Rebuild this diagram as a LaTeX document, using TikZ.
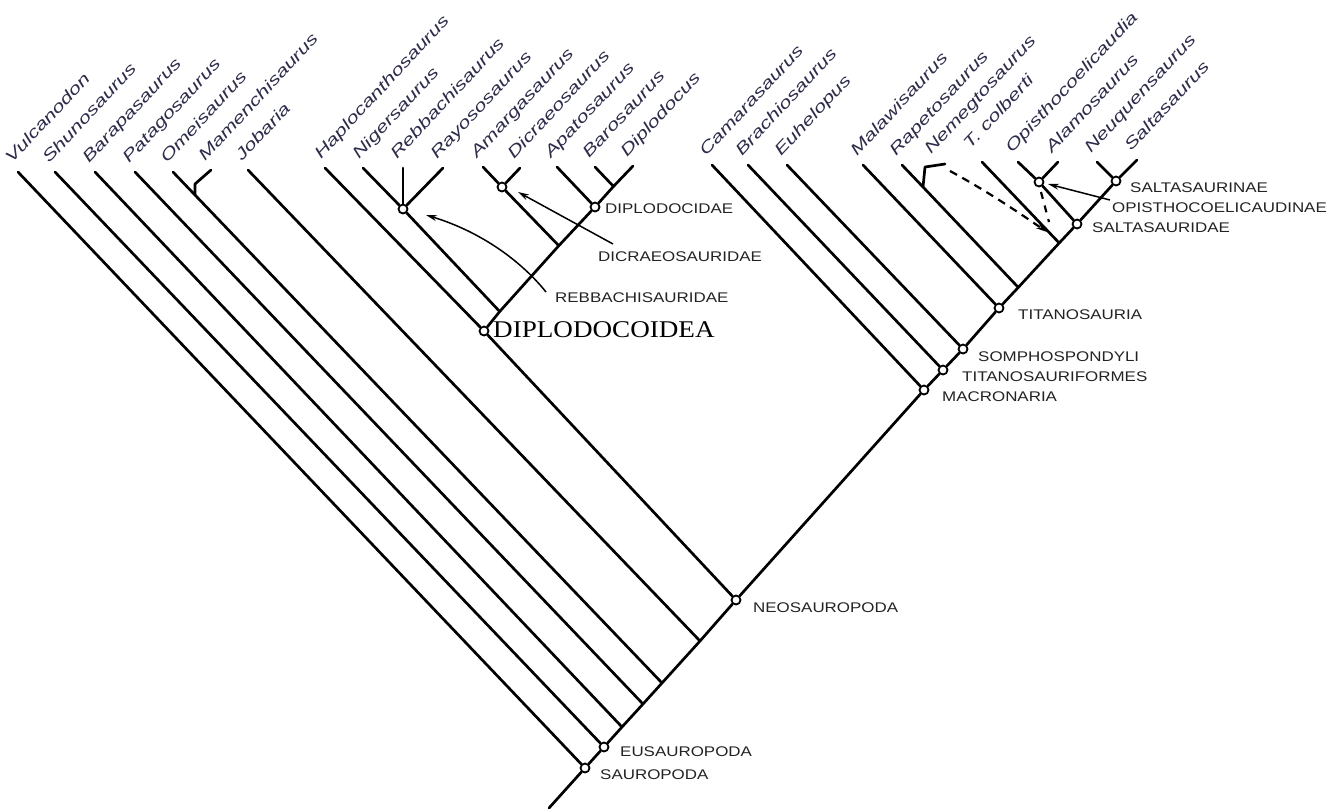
\documentclass[tikz,border=0pt]{standalone}
\usepackage{fontspec}
\setmainfont{Liberation Sans}
\newfontfamily\serifo{Liberation Serif}
\usepackage{graphicx}
\usetikzlibrary{arrows.meta,calc}
\definecolor{taxcol}{RGB}{45,45,75}
\definecolor{cladecol}{RGB}{35,35,35}
\newcommand{\taxt}[1]{\scalebox{1.37}[1]{\fontsize{16}{16}\selectfont\itshape #1}}
\newcommand{\cladet}[1]{\scalebox{1.21}[1]{\fontsize{14}{14}\selectfont #1}}
\tikzset{
  br/.style={line width=2.7pt, line cap=round, line join=round},
  nd/.style={circle, draw, fill=white, line width=1.8pt, minimum size=9pt, inner sep=0pt},
  tax/.style={rotate=47, anchor=base west, inner sep=0pt, text=taxcol},
  clade/.style={anchor=west, inner sep=0pt, text=cladecol},
  arr/.style={line width=1.5pt, -{Stealth[length=11pt,width=6pt]}},
  darr/.style={line width=2.2pt, dash pattern=on 8pt off 6pt, -{Stealth[length=11pt,width=6pt]}},
}
\begin{document}
\begin{tikzpicture}[x=1pt,y=-1pt]
\fill[white] (0,0) rectangle (1343,809);
\useasboundingbox (0,0) rectangle (1343,809);
% internal nodes
\node[nd] (saur) at (585,768) {};
\node[nd] (eus) at (604,747) {};
\node[nd] (neo) at (736,600) {};
\node[nd] (dip) at (484,331) {};
\node[nd] (reb) at (403,209) {};
\node[nd] (dic) at (502,187) {};
\node[nd] (dipl) at (595,207) {};
\node[nd] (mac) at (924,390) {};
\node[nd] (tif) at (943,370) {};
\node[nd] (som) at (963,349) {};
\node[nd] (tit) at (999,308) {};
\node[nd] (sal) at (1077,224) {};
\node[nd] (opi) at (1039,182) {};
\node[nd] (sln) at (1116,181) {};
% junctions
\coordinate (root) at (549,808);
\coordinate (jBar) at (622,727);
\coordinate (jPat) at (643,704);
\coordinate (jOme) at (662,683);
\coordinate (jJob) at (700,641);
\coordinate (jReb) at (499.7,311.5);
\coordinate (jDic) at (558.8,245.7);
\coordinate (jBaro) at (613.5,186.4);
\coordinate (jRap) at (1018.3,287.4);
\coordinate (jTco) at (1059.2,243);
\coordinate (jMam) at (195,195);
\coordinate (mamA) at (195,184);
\coordinate (jNem) at (923,187);
\coordinate (nemA) at (925,167);
% tips
\coordinate (tVul) at (18,172);
\coordinate (tShu) at (55,172);
\coordinate (tBar) at (95,172);
\coordinate (tPat) at (135,172);
\coordinate (tOme) at (173,172);
\coordinate (tMam) at (211,170);
\coordinate (tJob) at (248,170);
\coordinate (tHap) at (325,168);
\coordinate (tNig) at (363,168);
\coordinate (tReb) at (403,168);
\coordinate (tRay) at (443,168);
\coordinate (tAma) at (483,167);
\coordinate (tDcr) at (520,168);
\coordinate (tApa) at (557,167);
\coordinate (tBaro) at (595,167);
\coordinate (tDip) at (633,166);
\coordinate (tCam) at (712,165);
\coordinate (tBra) at (748,165);
\coordinate (tEuh) at (787,165);
\coordinate (tMal) at (863,165);
\coordinate (tRap) at (902,165);
\coordinate (tNem) at (945,164);
\coordinate (tTco) at (982,162);
\coordinate (tOpi) at (1018,162);
\coordinate (tAla) at (1058,162);
\coordinate (tNeu) at (1097,162);
\coordinate (tSal) at (1137,160);
% branches
\draw[br] (root) -- (saur) -- (eus) -- (jBar) -- (jPat) -- (jOme) -- (jJob) -- (neo) -- (mac) -- (tif) -- (som) -- (tit) -- (jRap) -- (jTco) -- (sal) -- (sln);
\draw[br] (tVul) -- (saur);
\draw[br] (tShu) -- (eus);
\draw[br] (tBar) -- (jBar);
\draw[br] (tPat) -- (jPat);
\draw[br] (tOme) -- (jMam) -- (jOme);
\draw[br] (jMam) -- (mamA) -- (tMam);
\draw[br] (tJob) -- (jJob);
\draw[br] (tHap) -- (dip) -- (neo);
\draw[br] (dip) -- (jReb) -- (jDic) -- (dipl) -- (jBaro) -- (tDip);
\draw[br] (tNig) -- (reb) -- (jReb);
\draw[br] (tReb) -- (reb);
\draw[br] (tRay) -- (reb);
\draw[br] (tAma) -- (dic);
\draw[br] (tDcr) -- (dic);
\draw[br] (dic) -- (jDic);
\draw[br] (tApa) -- (dipl);
\draw[br] (tBaro) -- (jBaro);
\draw[br] (tCam) -- (mac);
\draw[br] (tBra) -- (tif);
\draw[br] (tEuh) -- (som);
\draw[br] (tMal) -- (tit);
\draw[br] (tRap) -- (jNem) -- (jRap);
\draw[br] (jNem) -- (nemA) -- (tNem);
\draw[br] (tTco) -- (jTco);
\draw[br] (tOpi) -- (opi);
\draw[br] (tAla) -- (opi);
\draw[br] (opi) -- (sal);
\draw[br] (tNeu) -- (sln);
\draw[br] (tSal) -- (sln);
% taxon labels
\node[tax] (lVul) at ($(tVul)+(-6,-8)$) {\taxt{Vulcanodon}};
\node[tax] (lShu) at ($(tShu)+(-6,-8)$) {\taxt{Shunosaurus}};
\node[tax] (lBar) at ($(tBar)+(-6,-8)$) {\taxt{Barapasaurus}};
\node[tax] (lPat) at ($(tPat)+(-6,-8)$) {\taxt{Patagosaurus}};
\node[tax] (lOme) at ($(tOme)+(-6,-8)$) {\taxt{Omeisaurus}};
\node[tax] (lMam) at ($(tMam)+(-6,-8)$) {\taxt{Mamenchisaurus}};
\node[tax] (lJob) at ($(tJob)+(-6,-8)$) {\taxt{Jobaria}};
\node[tax] (lHap) at ($(tHap)+(-4,-8)$) {\taxt{Haplocanthosaurus}};
\node[tax] (lNig) at ($(tNig)+(-4,-8)$) {\taxt{Nigersaurus}};
\node[tax] (lReb) at ($(tReb)+(-6,-8)$) {\taxt{Rebbachisaurus}};
\node[tax] (lRay) at ($(tRay)+(-6,-8)$) {\taxt{Rayososaurus}};
\node[tax] (lAma) at ($(tAma)+(-6,-8)$) {\taxt{Amargasaurus}};
\node[tax] (lDcr) at ($(tDcr)+(-6,-8)$) {\taxt{Dicraeosaurus}};
\node[tax] (lApa) at ($(tApa)+(-6,-8)$) {\taxt{Apatosaurus}};
\node[tax] (lBaro) at ($(tBaro)+(-6,-8)$) {\taxt{Barosaurus}};
\node[tax] (lDip) at ($(tDip)+(-6,-8)$) {\taxt{Diplodocus}};
\node[tax] (lCam) at ($(tCam)+(-6,-8)$) {\taxt{Camarasaurus}};
\node[tax] (lBra) at ($(tBra)+(-6,-8)$) {\taxt{Brachiosaurus}};
\node[tax] (lEuh) at ($(tEuh)+(-6,-8)$) {\taxt{Euhelopus}};
\node[tax] (lMal) at ($(tMal)+(-6,-8)$) {\taxt{Malawisaurus}};
\node[tax] (lRap) at ($(tRap)+(-6,-8)$) {\taxt{Rapetosaurus}};
\node[tax] (lNem) at ($(nemA)+(6,-12)$) {\taxt{Nemegtosaurus}};
\node[tax] (lTco) at ($(tTco)+(-12,-12)$) {\taxt{T. colberti}};
\node[tax] (lOpi) at ($(tOpi)+(-6,-8)$) {\taxt{Opisthocoelicaudia}};
\node[tax] (lAla) at ($(tAla)+(-6,-8)$) {\taxt{Alamosaurus}};
\node[tax] (lNeu) at ($(tNeu)+(-6,-8)$) {\taxt{Neuquensaurus}};
\node[tax] (lSal) at ($(tSal)+(-6,-8)$) {\taxt{Saltasaurus}};
% clade labels
\node[clade] (cSln) at (1130,188) {\cladet{SALTASAURINAE}};
\node[clade] (cOpi) at (1112,208) {\cladet{OPISTHOCOELICAUDINAE}};
\node[clade] (cSal) at (1092,228) {\cladet{SALTASAURIDAE}};
\node[clade] (cTit) at (1018,315) {\cladet{TITANOSAURIA}};
\node[clade] (cSom) at (978,357) {\cladet{SOMPHOSPONDYLI}};
\node[clade] (cTif) at (962,377) {\cladet{TITANOSAURIFORMES}};
\node[clade] (cMac) at (942,397) {\cladet{MACRONARIA}};
\node[clade] (cNeo) at (753,608) {\cladet{NEOSAUROPODA}};
\node[clade] (cEus) at (620,752) {\cladet{EUSAUROPODA}};
\node[clade] (cSaur) at (600,775) {\cladet{SAUROPODA}};
\node[clade] (cDipl) at (605,209) {\cladet{DIPLODOCIDAE}};
\node[clade] (cDic) at (598,257) {\cladet{DICRAEOSAURIDAE}};
\node[clade] (cReb) at (555,298) {\cladet{REBBACHISAURIDAE}};
\node[anchor=west, inner sep=0pt, text=black] (cDip) at (493,330) {\scalebox{1.13}[1]{\fontsize{24}{24}\selectfont\serifo DIPLODOCOIDEA}};
% arrows
\coordinate (aRebT) at (546,292);
\coordinate (aRebH) at (426,215);
\coordinate (aDicT) at (613,244);
\coordinate (aDicH) at (518,192);
\coordinate (aOpiT) at (1110,200);
\coordinate (aOpiH) at (1048,184);
\coordinate (aNemT) at (950,171);
\coordinate (aNemH) at (1047,232);
\coordinate (aOdT) at (1041,192);
\coordinate (aOdH) at (1049,222);
\draw[arr] (aRebT) .. controls (522,262) and (482,232) .. (aRebH);
\draw[arr] (aDicT) -- (aDicH);
\draw[arr] (aOpiT) -- (aOpiH);
\draw[darr] (aNemT) .. controls (985,190) and (1015,210) .. (aNemH);
\draw[line width=2.2pt, dash pattern=on 7pt off 7pt] (aOdT) -- (aOdH);
\end{tikzpicture}
\end{document}
